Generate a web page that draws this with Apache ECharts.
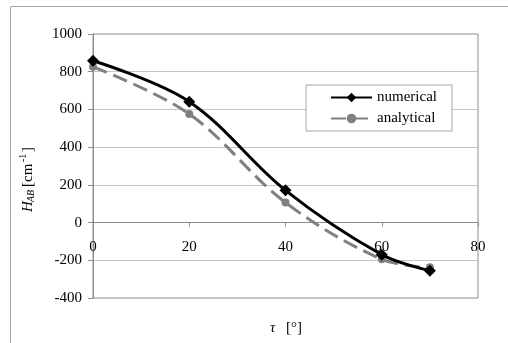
<!DOCTYPE html>
<html>
<head>
<meta charset="utf-8">
<script src="https://cdn.jsdelivr.net/npm/echarts@6/dist/echarts.min.js"></script>
<style>html,body{margin:0;padding:0;background:#fff;}#c{width:508px;height:343px;}</style>
</head>
<body>
<div id="c"></div>
<script>
const tau = [0, 20, 40, 60, 70];
const numerical = [858, 641, 171, -170, -255];
const analytical = [826, 576, 106, -195, -237];
const seriesNames = ['numerical', 'analytical'];
const xTicks = {min: 0, max: 80, interval: 20};
const yTicks = {min: -400, max: 1000, interval: 200};

const FONT = 'Liberation Serif';
const chart = echarts.init(document.getElementById('c'), null, {renderer: 'canvas'});
const pair = (xs, ys) => xs.map((x, i) => [x, ys[i]]);

// plot geometry: top 34, bottom 298 -> distance from bottom to zero line
const plotTop = 34, plotBottom = 298;
const zeroOffset = (plotBottom - plotTop) * (0 - yTicks.min) / (yTicks.max - yTicks.min);

chart.setOption({
  animation: false,
  backgroundColor: '#fff',
  grid: {left: 93, top: plotTop, right: 30, bottom: 343 - plotBottom, show: true, borderColor: '#8c8c8c', borderWidth: 1, backgroundColor: 'transparent'},
  xAxis: {
    type: 'value', min: xTicks.min, max: xTicks.max, interval: xTicks.interval,
    position: 'bottom', offset: -zeroOffset,
    axisLine: {show: true, onZero: false, lineStyle: {color: '#8c8c8c', width: 1}},
    axisTick: {show: true, length: 4, lineStyle: {color: '#8c8c8c'}},
    splitLine: {show: false},
    axisLabel: {fontFamily: FONT, fontSize: 15, color: '#000', margin: 17, formatter: v => String(v)}
  },
  yAxis: {
    type: 'value', min: yTicks.min, max: yTicks.max, interval: yTicks.interval,
    axisLine: {show: true, lineStyle: {color: '#8c8c8c', width: 1}},
    axisTick: {show: true, length: 5, lineStyle: {color: '#8c8c8c'}},
    splitLine: {show: true, lineStyle: {color: '#c4c4c4', width: 1}},
    axisLabel: {fontFamily: FONT, fontSize: 15, color: '#000', margin: 11, formatter: v => String(v)}
  },
  legend: {
    show: true, orient: 'vertical', left: 306, top: 85,
    padding: [5, 15, 5, 24], itemGap: 6, itemWidth: 41, itemHeight: 12,
    backgroundColor: '#fff', borderColor: '#a6a6a6', borderWidth: 1,
    textStyle: {fontFamily: FONT, fontSize: 15, color: '#000'},
    data: seriesNames
  },
  series: [
    {
      name: seriesNames[1], type: 'line', data: pair(tau, analytical), smooth: 0.35,
      symbol: 'circle', symbolSize: 8, z: 2,
      lineStyle: {color: '#808080', width: 3, type: [15, 7]},
      itemStyle: {color: '#808080'}
    },
    {
      name: seriesNames[0], type: 'line', data: pair(tau, numerical), smooth: 0.35,
      symbol: 'diamond', symbolSize: 12, z: 3,
      lineStyle: {color: '#000', width: 3},
      itemStyle: {color: '#000'}
    }
  ],
  graphic: [
    {type: 'rect', left: 8, top: 4, shape: {x: 0.5, y: 0.5, width: 520, height: 337}, style: {fill: 'none', stroke: '#a6a6a6', lineWidth: 1}, silent: true},
    {type: 'group', x: 28, y: 212, rotation: Math.PI / 2, children: [
      {type: 'text', x: 0, y: 0, style: {text: 'H', font: 'italic 15px "Liberation Serif"', fill: '#000', textAlign: 'left', textVerticalAlign: 'middle'}},
      {type: 'text', x: 10, y: 3, style: {text: 'AB', font: 'italic 10px "Liberation Serif"', fill: '#000', textAlign: 'left', textVerticalAlign: 'middle'}},
      {type: 'text', x: 25, y: 0, style: {text: '[cm', font: '15px "Liberation Serif"', fill: '#000', textAlign: 'left', textVerticalAlign: 'middle'}},
      {type: 'text', x: 50, y: -5, style: {text: '-1', font: '10px "Liberation Serif"', fill: '#000', textAlign: 'left', textVerticalAlign: 'middle'}},
      {type: 'text', x: 60, y: 0, style: {text: ']', font: '15px "Liberation Serif"', fill: '#000', textAlign: 'left', textVerticalAlign: 'middle'}}
    ]},
    {type: 'text', x: 270, y: 328, style: {text: 'τ', font: 'italic 15px "Liberation Serif"', fill: '#000', textAlign: 'left', textVerticalAlign: 'middle'}},
    {type: 'text', x: 286, y: 328, style: {text: '[°]', font: '15px "Liberation Serif"', fill: '#000', textAlign: 'left', textVerticalAlign: 'middle'}}
  ]
});
</script>
</body>
</html>
